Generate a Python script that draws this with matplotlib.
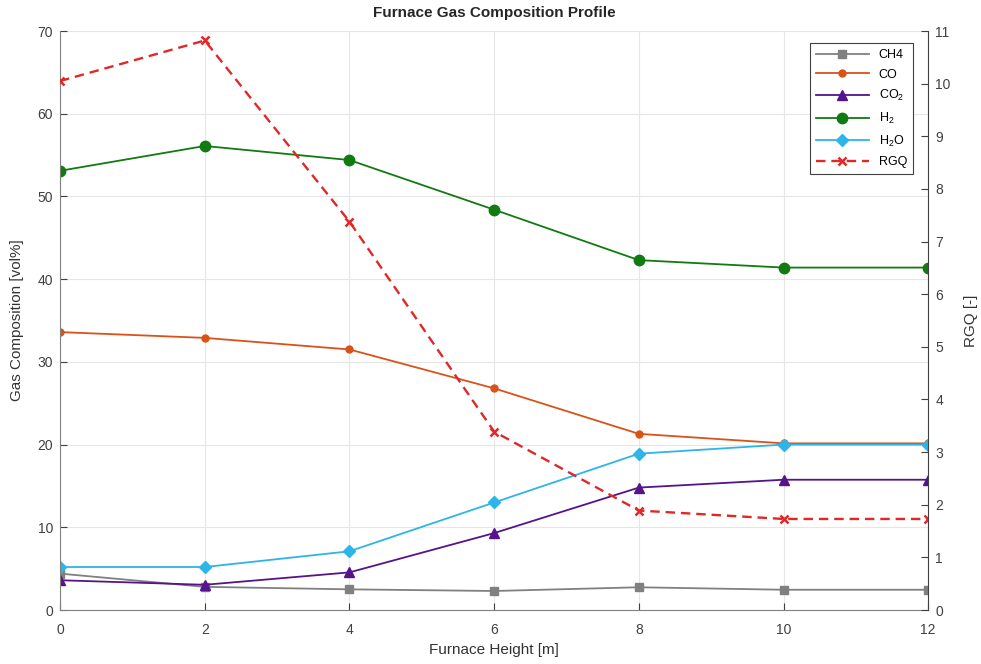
import matplotlib.pyplot as plt

plt.rcParams['font.family'] = ['Liberation Sans', 'DejaVu Sans']
plt.rcParams['mathtext.default'] = 'regular'

# furnace height positions [m]
height = [0, 2, 4, 6, 8, 10, 12]

# gas composition [vol%]
ch4 = [4.4, 2.8, 2.5, 2.3, 2.75, 2.45, 2.45]
co = [33.6, 32.9, 31.5, 26.8, 21.3, 20.15, 20.15]
co2 = [3.6, 3.05, 4.55, 9.3, 14.8, 15.75, 15.75]
h2 = [53.1, 56.1, 54.4, 48.4, 42.3, 41.4, 41.4]
h2o = [5.2, 5.2, 7.1, 13.0, 18.9, 20.0, 20.0]

# reducing gas quality [-]
rgq = [10.05, 10.82, 7.38, 3.39, 1.89, 1.73, 1.73]

fig = plt.figure(figsize=(9.81, 6.64), dpi=100)
ax = fig.add_axes([0.0612, 0.0813, 0.885, 0.872])
ax2 = ax.twinx()

lw = 1.3
l1, = ax.plot(height, ch4, color='#808080', marker='s', ms=6, lw=lw, label='CH4')
l2, = ax.plot(height, co, color='#D95319', marker='.', ms=10, lw=lw, label='CO')
l3, = ax.plot(height, co2, color='#55148A', marker='^', ms=7.5, lw=lw, label='CO$_2$')
l4, = ax.plot(height, h2, color='#117A11', marker='o', ms=7.5, lw=lw, label='H$_2$')
l5, = ax.plot(height, h2o, color='#2CB5E8', marker='D', ms=6.5, lw=lw, label='H$_2$O')
l6, = ax2.plot(height, rgq, color='#E02828', marker='x', ms=6, mew=1.8, lw=1.7,
               ls=(0, (4, 2.5)), label='RGQ')

ax.set_xlim(0, 12)
ax.set_ylim(0, 70)
ax2.set_ylim(0, 11)
ax.set_xticks(range(0, 13, 2))
ax.set_yticks(range(0, 71, 10))
ax2.set_yticks(range(0, 12))

ax.grid(True, color='#E6E6E6', lw=0.8)
ax.set_axisbelow(True)

for a in (ax, ax2):
    a.tick_params(direction='in', length=5, labelsize=10, colors='#404040', pad=5)
    for s in a.spines.values():
        s.set_visible(False)
ax.tick_params(axis='x', pad=9)
ax.spines['left'].set_visible(True)
ax.spines['bottom'].set_visible(True)
ax.spines['left'].set_color('#808080')
ax.spines['bottom'].set_color('#808080')
ax2.spines['right'].set_visible(True)
ax2.spines['right'].set_color('#404040')

ax.set_xlabel('Furnace Height [m]', fontsize=11, color='#333333', labelpad=5)
ax.set_ylabel('Gas Composition [vol%]', fontsize=11, color='#333333', labelpad=10)
ax2.set_ylabel('RGQ [-]', fontsize=11, color='#333333', labelpad=10)
ax.set_title('Furnace Gas Composition Profile', fontsize=11, fontweight='bold',
             color='#262626', pad=10)

leg = ax2.legend(handles=[l1, l2, l3, l4, l5, l6], loc='upper right',
                 bbox_to_anchor=(0.99, 0.99), fontsize=9, handlelength=4.2,
                 labelspacing=0.6, fancybox=False, framealpha=1,
                 edgecolor='#404040', borderpad=0.5)
leg.get_frame().set_linewidth(0.8)

fig.savefig('out.png', dpi=100)
